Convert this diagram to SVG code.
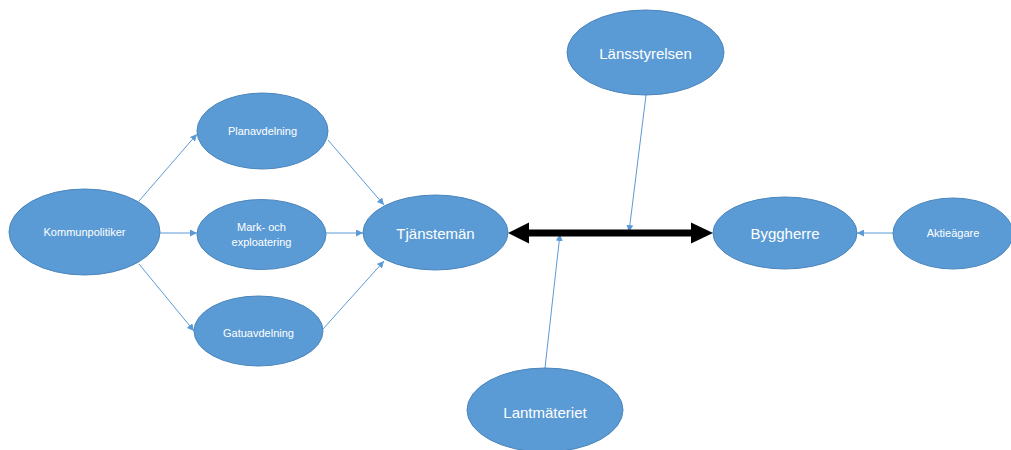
<svg xmlns="http://www.w3.org/2000/svg" width="1011" height="450" viewBox="0 0 1011 450">
<style>
.n ellipse{fill:#5B9BD5;stroke:#4A85BC;stroke-width:1}
.n text{fill:#FFFFFF;font-family:"Liberation Sans",Arial,sans-serif;text-anchor:middle;dominant-baseline:central}
.s{font-size:11px}
.b{font-size:15px}
.c line{stroke:#5B9BD5;stroke-width:1;fill:none}
</style>
<defs>
<marker id="a" viewBox="0 0 10 10" refX="10" refY="5" markerWidth="7" markerHeight="7" markerUnits="userSpaceOnUse" orient="auto">
<path d="M0,0 L10,5 L0,10 z" fill="#5B9BD5"/>
</marker>
</defs>
<g class="c" id="connectors">
<line x1="139" y1="201" x2="197" y2="134" marker-end="url(#a)"/>
<line x1="160" y1="233" x2="197" y2="233" marker-end="url(#a)"/>
<line x1="139" y1="264" x2="194" y2="331" marker-end="url(#a)"/>
<line x1="328" y1="140" x2="384" y2="205" marker-end="url(#a)"/>
<line x1="326" y1="233" x2="363" y2="233" marker-end="url(#a)"/>
<line x1="323" y1="329" x2="384" y2="261" marker-end="url(#a)"/>
<line x1="893" y1="233" x2="857" y2="233" marker-end="url(#a)"/>
<line x1="646" y1="95" x2="629" y2="232" marker-end="url(#a)"/>
<line x1="545" y1="368" x2="560" y2="234" marker-end="url(#a)"/>
<g id="double-arrow">
<rect x="528" y="229.5" width="164" height="7" fill="#000"/>
<path d="M508,233 L529,222.5 L529,243.5 z" fill="#000"/>
<path d="M713,233 L691,222.5 L691,243.5 z" fill="#000"/>
</g>
</g>
<g class="n" id="kommunpolitiker"><ellipse cx="84.5" cy="232" rx="75.5" ry="43"/><text class="s" x="84.5" y="232">Kommunpolitiker</text></g>
<g class="n" id="planavdelning"><ellipse cx="262.5" cy="131" rx="65.5" ry="38"/><text class="s" x="262.5" y="131">Planavdelning</text></g>
<g class="n" id="mark"><ellipse cx="261.5" cy="234.5" rx="64.5" ry="35"/><text class="s" x="261.5" y="227">Mark- och</text><text class="s" x="261.5" y="242">exploatering</text></g>
<g class="n" id="gatuavdelning"><ellipse cx="258.5" cy="331" rx="64.5" ry="35"/><text class="s" x="258.5" y="333">Gatuavdelning</text></g>
<g class="n" id="tjanstemann"><ellipse cx="435.5" cy="232.5" rx="72.5" ry="37.5"/><text class="b" x="435.5" y="233">Tjänstemän</text></g>
<g class="n" id="byggherre"><ellipse cx="785" cy="233" rx="72" ry="36"/><text class="b" x="785" y="233">Byggherre</text></g>
<g class="n" id="aktieagare"><ellipse cx="953" cy="233.5" rx="60" ry="35.5"/><text class="s" x="953" y="233">Aktieägare</text></g>
<g class="n" id="lansstyrelsen"><ellipse cx="645.5" cy="52.5" rx="78.5" ry="42.5"/><text class="b" x="645.5" y="53">Länsstyrelsen</text></g>
<g class="n" id="lantmateriet"><ellipse cx="545" cy="410" rx="78" ry="42"/><text class="b" x="545" y="412">Lantmäteriet</text></g>
</svg>
